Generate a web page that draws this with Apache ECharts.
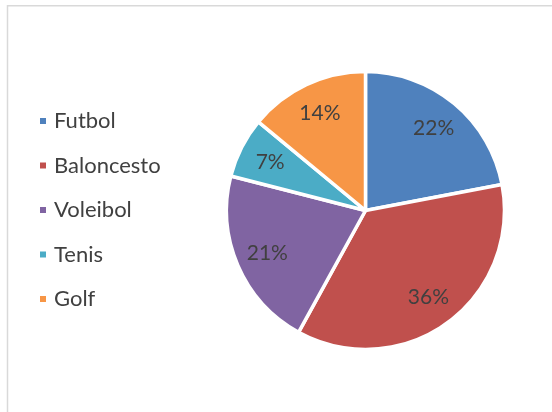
<!DOCTYPE html>
<html>
<head>
<meta charset="utf-8">
<script src="https://cdn.jsdelivr.net/npm/echarts@6/dist/echarts.min.js"></script>
<style>
  html, body { margin: 0; padding: 0; background: #fff; }
  #chart { width: 552px; height: 412px; }
</style>
</head>
<body>
<div id="chart"></div>
<script>
// Sports and their share of the total (percent)
const categories = ['Futbol', 'Baloncesto', 'Voleibol', 'Tenis', 'Golf'];
const shares = [22, 36, 21, 7, 14];
const colors = ['#4F81BD', '#C0504D', '#8064A2', '#4BACC6', '#F79646'];

const FONT = 'Lato';
const TEXT = '#404040';

const pieData = categories.map((name, i) => ({ name, value: shares[i] }));

const chart = echarts.init(document.getElementById('chart'), null, { renderer: 'canvas' });
chart.setOption({
  animation: false,
  color: colors,
  graphic: [{
    type: 'rect',
    silent: true,
    shape: { x: 7.5, y: 5.75, width: 700, height: 600 },
    style: { fill: 'none', stroke: '#d9d9d9', lineWidth: 1.5 }
  }],
  legend: {
    orient: 'vertical',
    left: 38,
    top: 110,
    padding: 0,
    icon: 'rect',
    itemWidth: 8,
    itemHeight: 8,
    itemGap: 22.5,
    data: categories,
    selectedMode: false,
    textStyle: {
      fontFamily: FONT,
      fontSize: 22,
      lineHeight: 22,
      color: TEXT,
      padding: [0, 0, 0, 2]
    }
  },
  series: [
    {
      type: 'pie',
      center: [365.5, 210.5],
      radius: [0, 139],
      startAngle: 90,
      clockwise: true,
      silent: true,
      data: pieData,
      itemStyle: { borderColor: '#ffffff', borderWidth: 3.5 },
      label: { show: false },
      labelLine: { show: false }
    },
    {
      // transparent ring that carries the percentage labels
      type: 'pie',
      center: [365.5, 210.5],
      radius: [71, 137],
      startAngle: 90,
      clockwise: true,
      silent: true,
      data: pieData,
      itemStyle: { color: 'rgba(0,0,0,0)', borderWidth: 0 },
      label: {
        show: true,
        position: 'inside',
        formatter: p => p.value + '%',
        fontFamily: FONT,
        fontSize: 21,
        color: TEXT
      },
      labelLine: { show: false }
    }
  ]
});
</script>
</body>
</html>
